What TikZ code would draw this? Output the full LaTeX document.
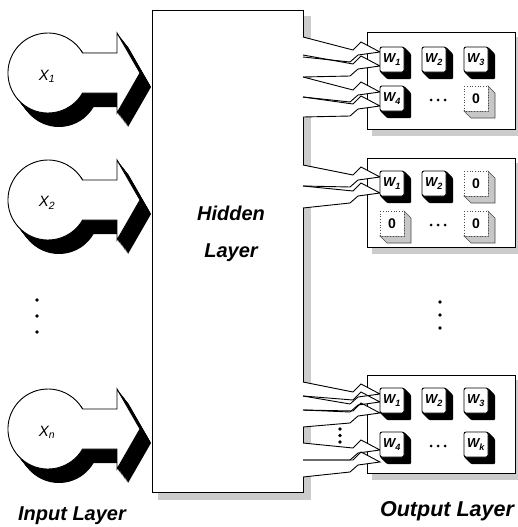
\documentclass[tikz,border=0pt]{standalone}
\usepackage{fontspec}
\setmainfont{Liberation Sans}
\newcommand\inpath[1]{(82.6,#1-20) -- (117,#1-20) -- (117,#1-40) -- (140,#1) -- (117,#1+40) -- (117,#1+20) -- (82.6,#1+20) arc[start angle=30,end angle=330,radius=40] -- cycle}
\newcommand\boltfill[4]{\fill[white] (303,#1) -- (#3-27,#4-2) -- (#3-19,#4-10) -- (#3,#4) -- (#3-22,#4+3) -- (#3-30,#4+10) -- (303,#2) -- cycle;}
\newcommand\boltdraw[4]{\draw[line join=miter] (303,#1) -- (#3-27,#4-2) -- (#3-19,#4-10) -- (#3,#4) -- (#3-22,#4+3) -- (#3-30,#4+10) -- (303,#2);}
\newcommand\wcell[4]{%
  \fill[black, rounded corners=1pt] (#2+24,#3) -- (#2+31,#3+7) -- (#2+31,#3+32) -- (#2+7,#3+32) -- (#2,#3+25) -- cycle;
  \draw[fill=white, rounded corners=2pt] (#2,#3) rectangle (#2+24,#3+25);
  \node[wlbl] (#1) at (#2+12,#3+12.5) {W\textsubscript{#4}};}
\newcommand\zcell[3]{%
  \filldraw[fill=black!22, draw=black!70, line width=0.6pt] (#2+24,#3) -- (#2+31,#3+7) -- (#2+31,#3+32) -- (#2+7,#3+32) -- (#2,#3+25) -- (#2+24,#3+25) -- cycle;
  \draw[fill=white, dotted, draw=black!70, line width=0.7pt] (#2,#3) rectangle (#2+24,#3+25);
  \node[zlbl] (#1) at (#2+12,#3+12.5) {0};}
\newcommand\outbox[3]{%
  \fill[shade] (372,#3) rectangle (519,#3+7);
  \fill[shade] (515,#2+5) rectangle (519,#3+7);
  \draw[fill=white] (367,#2) rectangle (515,#3);
  \coordinate (#1) at (441,#2);}
\newcommand\celldots[2]{%
  \node[cdot] (#1a) at (431,#2) {};
  \node[cdot] (#1b) at (438,#2) {};
  \node[cdot] (#1c) at (445,#2) {};}
\begin{document}
\begin{tikzpicture}[x=1pt,y=-1pt, line width=0.9pt,
  lbl/.style={font=\fontsize{20}{24}\selectfont\bfseries\itshape, inner sep=0pt},
  inlbl/.style={font=\fontsize{15}{17}\selectfont\itshape, inner sep=0pt},
  wlbl/.style={font=\fontsize{13}{13}\selectfont\bfseries\itshape, inner sep=0pt},
  zlbl/.style={font=\fontsize{14}{14}\selectfont\bfseries, inner sep=0pt},
  shade/.style={fill=black!20},
  dotpt/.style={circle, fill=black, inner sep=0pt, minimum size=3.6pt},
  cdot/.style={circle, fill=black, inner sep=0pt, minimum size=3pt}]
\useasboundingbox (0,0) rectangle (518,527);

% hidden layer shadow and outline
\fill[shade] (303,16) rectangle (311,500);
\fill[shade] (158,492) rectangle (311,500);
\draw (303,37) -- (303,10) -- (152,10) -- (152,492) -- (303,492) -- (303,477);
\draw (303,117) -- (303,165);
\draw (303,208) -- (303,382);
\draw (303,427) -- (303,443);
\coordinate (hid) at (227,250);

% output boxes
\outbox{ob1}{32}{129}
\outbox{ob2}{158}{247}
\outbox{ob3}{375}{473}

% bolts (fill then outline)
\boltfill{37}{57}{380}{52}
\boltfill{55}{77}{380}{66}
\boltfill{77}{97}{380}{92}
\boltfill{97}{117}{380}{106}
\boltfill{165}{186}{380}{177}
\boltfill{186}{208}{380}{193}
\boltfill{382}{396}{380}{394}
\boltfill{396}{410}{380}{402}
\boltfill{410}{427}{380}{413}
\boltfill{443}{460}{380}{450}
\boltfill{460}{477}{380}{462}
\boltdraw{37}{57}{380}{52}
\boltdraw{55}{77}{380}{66}
\boltdraw{77}{97}{380}{92}
\boltdraw{97}{117}{380}{106}
\boltdraw{165}{186}{380}{177}
\boltdraw{186}{208}{380}{193}
\boltdraw{382}{396}{380}{394}
\boltdraw{396}{410}{380}{402}
\boltdraw{410}{427}{380}{413}
\boltdraw{443}{460}{380}{450}
\boltdraw{460}{477}{380}{462}
\node[dotpt] (bd1) at (340,429) {};
\node[dotpt] (bd2) at (340,435.5) {};
\node[dotpt] (bd3) at (340,442) {};

% cells group 1
\wcell{a1}{380}{47}{1}
\wcell{a2}{422}{47}{2}
\wcell{a3}{464}{47}{3}
\wcell{a4}{380}{86}{4}
\celldots{a5}{100}
\zcell{a6}{464}{86}
% cells group 2
\wcell{b1}{380}{171}{1}
\wcell{b2}{422}{171}{2}
\zcell{b3}{464}{171}
\zcell{b4}{380}{211}
\celldots{b5}{225}
\zcell{b6}{464}{211}
% cells group 3
\wcell{c1}{380}{388}{1}
\wcell{c2}{422}{388}{2}
\wcell{c3}{464}{388}{3}
\wcell{c4}{380}{432}{4}
\celldots{c5}{446}
\wcell{c6}{464}{432}{k}

% right dots
\node[dotpt] (rd1) at (440,302) {};
\node[dotpt] (rd2) at (440,315) {};
\node[dotpt] (rd3) at (440,328) {};

% inputs
\foreach \cy/\nm/\lab in {73/x1/1, 200/x2/2, 429/xn/n} {
  \foreach \s in {0,...,20} {\fill[black, shift={(0.55*\s,0.7*\s)}] \inpath{\cy};}
  \filldraw[fill=white] \inpath{\cy};
  \node[inlbl] (\nm) at (47,\cy+3) {X\textsubscript{\lab}};
}
\node[dotpt] (ld1) at (37,300) {};
\node[dotpt] (ld2) at (37,316) {};
\node[dotpt] (ld3) at (37,332) {};

% labels
\node[lbl] (hl1) at (231,213) {Hidden};
\node[lbl] (hl2) at (231,253) {Layer};
\node[lbl] (il) at (72,516) {Input Layer};
\node[lbl, font=\fontsize{21.5}{24}\selectfont\bfseries\itshape] (ol) at (447,511) {Output Layer};
\end{tikzpicture}
\end{document}
